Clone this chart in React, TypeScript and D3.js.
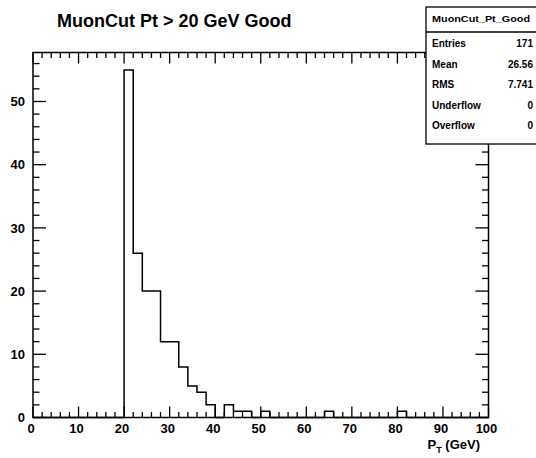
import React, { useEffect, useRef } from 'react';
import * as d3 from 'd3';

// histogram: 50 bins of 2 GeV from 0 to 100
const binWidth = 2;
const counts = [
  0, 0, 0, 0, 0, 0, 0, 0, 0, 0,
  55, 26, 20, 20, 12, 12, 8, 5, 4, 2,
  0, 2, 1, 1, 0, 1, 0, 0, 0, 0,
  0, 0, 1, 0, 0, 0, 0, 0, 0, 0,
  1, 0, 0, 0, 0, 0, 0, 0, 0, 0,
];
const xMajor = [0, 10, 20, 30, 40, 50, 60, 70, 80, 90, 100];
const yMajor = [0, 10, 20, 30, 40, 50];
const title = 'MuonCut Pt > 20 GeV Good';
const statTitle = 'MuonCut_Pt_Good';
const statLabels = ['Entries', 'Mean', 'RMS', 'Underflow', 'Overflow'];
const statValues = ['171', '26.56', '7.741', '0', '0'];

const FONT = '"Liberation Sans", Arial, Helvetica, sans-serif';

export default function App() {
  const ref = useRef<SVGSVGElement>(null);

  useEffect(() => {
    const svg = d3.select(ref.current);
    svg.selectAll('*').remove();

    const left = 33, right = 488.5, top = 52.5, bottom = 417.5;
    const yMax = d3.max(counts) * 1.05;
    const x = d3.scaleLinear().domain([0, counts.length * binWidth]).range([left, right]);
    const y = d3.scaleLinear().domain([0, yMax]).range([bottom, top]);

    svg.append('rect').attr('width', 536).attr('height', 458).attr('fill', '#fff');

    // title
    svg.append('text')
      .attr('x', 57).attr('y', 27)
      .attr('font-family', FONT).attr('font-weight', 'bold').attr('font-size', 18)
      .text(title);

    // histogram outline
    const pts: [number, number][] = [[0, 0]];
    counts.forEach((c, i) => {
      pts.push([i * binWidth, c]);
      pts.push([(i + 1) * binWidth, c]);
    });
    pts.push([counts.length * binWidth, 0]);
    const line = d3.line<[number, number]>().x(d => x(d[0])).y(d => y(d[1]));
    svg.append('path')
      .attr('d', line(pts))
      .attr('fill', 'none').attr('stroke', '#000').attr('stroke-width', 1.5);

    // ticks on all four sides
    const g = svg.append('g').attr('stroke', '#000').attr('stroke-width', 1.3);
    const xMinor = d3.range(0, 100.001, 2);
    const yMinor = d3.range(0, yMax, 2);
    xMinor.forEach(v => {
      const len = v % 10 === 0 ? 11 : 5.5;
      g.append('line').attr('x1', x(v)).attr('x2', x(v)).attr('y1', bottom).attr('y2', bottom - len);
      g.append('line').attr('x1', x(v)).attr('x2', x(v)).attr('y1', top).attr('y2', top + len);
    });
    yMinor.forEach(v => {
      const len = v % 10 === 0 ? 13 : 6.5;
      g.append('line').attr('y1', y(v)).attr('y2', y(v)).attr('x1', left).attr('x2', left + len);
      g.append('line').attr('y1', y(v)).attr('y2', y(v)).attr('x1', right).attr('x2', right - len);
    });

    // frame
    svg.append('rect')
      .attr('x', left).attr('y', top).attr('width', right - left).attr('height', bottom - top)
      .attr('fill', 'none').attr('stroke', '#000').attr('stroke-width', 1.5);

    // tick labels
    svg.append('g').selectAll('text').data(xMajor).join('text')
      .attr('x', d => x(d) - 2).attr('y', 433)
      .attr('text-anchor', 'middle')
      .attr('font-family', FONT).attr('font-weight', 'bold').attr('font-size', 13)
      .text(d => d);
    svg.append('g').selectAll('text').data(yMajor).join('text')
      .attr('x', 25).attr('y', d => y(d)).attr('dy', '0.36em')
      .attr('text-anchor', 'end')
      .attr('font-family', FONT).attr('font-weight', 'bold').attr('font-size', 13)
      .text(d => d);

    // axis title
    const at = svg.append('text')
      .attr('x', 480).attr('y', 449).attr('text-anchor', 'end')
      .attr('font-family', FONT).attr('font-weight', 'bold').attr('font-size', 13);
    at.append('tspan').text('P');
    at.append('tspan').attr('font-size', 9).attr('dy', 4).text('T');
    at.append('tspan').attr('dy', -4).text(' (GeV)');

    // stats box
    const sb = svg.append('g');
    sb.append('rect')
      .attr('x', 426).attr('y', 7).attr('width', 120).attr('height', 137)
      .attr('fill', '#fff').attr('stroke', '#000').attr('stroke-width', 1.3);
    sb.append('line').attr('x1', 426).attr('x2', 536).attr('y1', 32).attr('y2', 32)
      .attr('stroke', '#000').attr('stroke-width', 1.3);
    sb.append('text')
      .attr('x', 432).attr('y', 22)
      .attr('textLength', 98).attr('lengthAdjust', 'spacingAndGlyphs')
      .attr('font-family', FONT).attr('font-weight', 'bold').attr('font-size', 8.5)
      .text(statTitle);
    sb.selectAll('text.lab').data(statLabels).join('text')
      .attr('class', 'lab')
      .attr('x', 432).attr('y', (d, i) => 47 + i * 20.5)
      .attr('font-family', FONT).attr('font-weight', 'bold').attr('font-size', 10)
      .text(d => d);
    sb.selectAll('text.val').data(statValues).join('text')
      .attr('class', 'val')
      .attr('x', 533).attr('y', (d, i) => 47 + i * 20.5)
      .attr('text-anchor', 'end')
      .attr('font-family', FONT).attr('font-weight', 'bold').attr('font-size', 10)
      .text(d => d);
  }, []);

  return (
    <svg
      ref={ref}
      width={536}
      height={458}
      style={{ position: 'absolute', left: 0, top: 0, display: 'block' }}
    />
  );
}
